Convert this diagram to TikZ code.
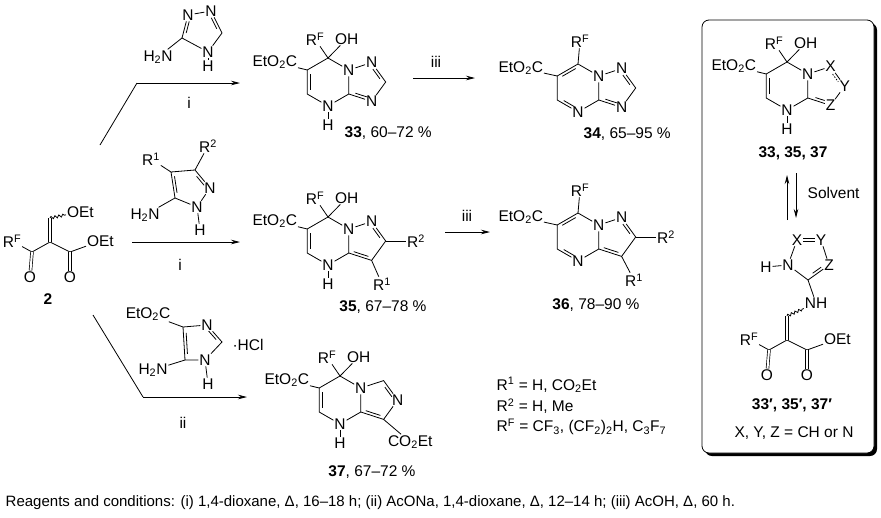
\documentclass[tikz,border=0pt]{standalone}
\usepackage{fontspec}
\setmainfont{Liberation Sans}
\usetikzlibrary{calc,arrows.meta,decorations.pathmorphing}
\newcommand\dbR[3][0.18]{\draw ($(#2)!#1!(#3)!2.8pt!-90:(#3)$) -- ($(#3)!#1!(#2)!2.8pt!90:(#2)$);}
\newcommand\enone[3]{%
\begin{scope}[shift={(#2,#3)}]
\coordinate (#1c) at (0,0); \coordinate (#1t) at (0,-24);
\coordinate (#1l) at (-18,10); \coordinate (#1r) at (20,10);
\node[atom] (#1RF) at (-38,-1) {R\textsuperscript{F}};
\node[atom] (#1Ol) at (-20,35) {O};
\node[atom] (#1Or) at (20,35) {O};
\node[atom,anchor=west] (#1OEt) at (36,-1) {OEt};
\draw (#1l)--(#1c)--(#1r); \draw (#1l)--(#1RF); \draw (#1r)--(#1OEt);
\draw[dbl] (#1l)--(#1Ol); \draw[dbl] (#1r)--(#1Or); \draw[dbl] (#1c)--(#1t);
\end{scope}}
\begin{document}
\begin{tikzpicture}[x=1pt,y=-1pt,line width=0.8pt,
  font=\fontsize{15.5}{18}\selectfont,
  atom/.style={inner sep=0.6pt},
  dbl/.style={double,double distance=2pt,line width=0.7pt},
  wavy/.style={decorate,decoration={snake,amplitude=1.3pt,segment length=4pt}},
  rxn/.style={-{Stealth[length=9pt,width=4.5pt]}}]
\useasboundingbox (0,0) rectangle (881,517);
% box
\fill[rounded corners=7pt] (705,23) rectangle (877,456);
\draw[fill=white,rounded corners=7pt] (702,20) rectangle (874,453);

% ---- compound 2
\enone{S}{50}{242}
\node[atom,anchor=west] (SOEt2) at (66,212) {OEt};
\draw[wavy] (St)--(SOEt2);
\node[font=\fontsize{15.5}{18}\selectfont\bfseries] (L2) at (48,299) {2};

% ---- aminotriazole
\node[atom] (TN2) at (188,15) {N};
\node[atom] (TN1) at (211,11) {N};
\coordinate (TC5) at (222,33);
\node[atom] (TN4) at (208,52) {N};
\node[atom] (TH) at (208,66) {H};
\coordinate (TC3) at (182,38);
\node[atom] (TNH2) at (158,57) {H\textsubscript{2}N};
\draw (TN2)--(TN1)--(TC5)--(TN4)--(TC3)--(TN2);
\draw (TN4)--(TH); \draw (TC3)--(TNH2);
\dbR[0.25]{TC3}{TN2} \dbR[0.25]{TN1}{TC5}

% ---- aminopyrazole
\node[atom] (PR1) at (151,159) {R\textsuperscript{1}};
\coordinate (PC4) at (171,172);
\node[atom] (PR2) at (208,146) {R\textsuperscript{2}};
\coordinate (PC3) at (195,170);
\node[atom] (PN2) at (210,188) {N};
\node[atom] (PN1) at (197,207) {N};
\node[atom] (PH) at (200,230) {H};
\coordinate (PC5) at (175,198);
\node[atom] (PNH2) at (145,215) {H\textsubscript{2}N};
\draw (PC4)--(PC3)--(PN2)--(PN1)--(PC5)--(PC4);
\draw (PC4)--(PR1); \draw (PC3)--(PR2); \draw (PN1)--(PH); \draw (PC5)--(PNH2);
\dbR[0.25]{PC3}{PN2} \dbR{PC5}{PC4}

% ---- aminoimidazole
\node[atom] (IE) at (148,314) {EtO\textsubscript{2}C};
\coordinate (IC4) at (183,327);
\node[atom] (IN3) at (207,325) {N};
\coordinate (IC2) at (222,342);
\node[atom] (IN1) at (205,360) {N};
\node[atom] (IH) at (208,384) {H};
\coordinate (IC5) at (185,360);
\node[atom] (INH2) at (153,370) {H\textsubscript{2}N};
\node (HCl) at (248,345) {·HCl};
\draw (IC4)--(IN3)--(IC2)--(IN1)--(IC5)--(IC4);
\draw (IC4)--(IE); \draw (IC5)--(INH2); \draw (IN1)--(IH);
\dbR[0.25]{IN3}{IC2} \dbR{IC5}{IC4}

% ---- arrows from 2
\coordinate (a1s) at (100,145); \coordinate (a1m) at (137,83); \coordinate (a1e) at (240,83);
\draw (a1s)--(a1m); \draw[rxn] (a1m)--(a1e);
\node (r1) at (189,103) {i};
\coordinate (a2s) at (132,242); \coordinate (a2e) at (240,242);
\draw[rxn] (a2s)--(a2e);
\node (r2) at (180,265) {i};
\coordinate (a3s) at (93,315); \coordinate (a3m) at (143,397); \coordinate (a3e) at (247,397);
\draw (a3s)--(a3m); \draw[rxn] (a3m)--(a3e);
\node (r3) at (183,423) {ii};
\coordinate (a4s) at (413,78); \coordinate (a4e) at (475,78);
\draw[rxn] (a4s)--(a4e);
\node (r4) at (436,62) {iii};
\coordinate (a5s) at (445,232); \coordinate (a5e) at (490,232);
\draw[rxn] (a5s)--(a5e);
\node (r5) at (467,216) {iii};

% ---- compound 33
\begin{scope}[shift={(328,82)}]
\coordinate (At) at (0,-24);
\node[atom] (Aur) at (20.8,-12) {N};
\coordinate (Alr) at (20.8,12);
\node[atom] (Ab) at (0,24) {N};
\coordinate (All) at (-20.8,12);
\coordinate (Aul) at (-20.8,-12);
\node[atom] (Ap1) at (43.6,-19.4) {N};
\coordinate (Ap2) at (57.7,0);
\node[atom] (Ap3) at (43.6,19.4) {N};
\node[atom] (AH) at (0,43) {H};
\node[atom] (ARF) at (-13,-43) {R\textsuperscript{F}};
\node[atom,anchor=west] (AOH) at (6,-43) {OH};
\node[atom,anchor=east] (AE) at (-30,-20) {EtO\textsubscript{2}C};
\draw (At)--(Aur)--(Alr)--(Ab)--(All)--(Aul)--(At);
\draw (Aur)--(Ap1)--(Ap2)--(Ap3)--(Alr);
\draw (At)--(ARF); \draw (At)--(AOH); \draw (Aul)--(AE); \draw (Ab)--(AH);
\dbR{All}{Aul} \dbR[0.25]{Ap1}{Ap2} \dbR[0.25]{Ap3}{Alr}
\end{scope}
\node[anchor=west] (L33) at (341,133) {\textbf{33}, 60–72 \%};

% ---- compound 35
\begin{scope}[shift={(328,241)}]
\coordinate (Bt) at (0,-24);
\node[atom] (Bur) at (20.8,-12) {N};
\coordinate (Blr) at (20.8,12);
\node[atom] (Bb) at (0,24) {N};
\coordinate (Bll) at (-20.8,12);
\coordinate (Bul) at (-20.8,-12);
\node[atom] (Bp1) at (43.6,-19.4) {N};
\coordinate (Bp2) at (57.7,0);
\coordinate (Bp3) at (43.6,19.4);
\node[atom] (BH) at (0,43) {H};
\node[atom] (BRF) at (-13,-43) {R\textsuperscript{F}};
\node[atom,anchor=west] (BOH) at (6,-43) {OH};
\node[atom,anchor=east] (BE) at (-30,-20) {EtO\textsubscript{2}C};
\node[atom] (BR2) at (88,0) {R\textsuperscript{2}};
\node[atom] (BR1) at (54,43) {R\textsuperscript{1}};
\draw (Bt)--(Bur)--(Blr)--(Bb)--(Bll)--(Bul)--(Bt);
\draw (Bur)--(Bp1)--(Bp2)--(Bp3)--(Blr);
\draw (Bt)--(BRF); \draw (Bt)--(BOH); \draw (Bul)--(BE); \draw (Bb)--(BH);
\draw (Bp2)--(BR2); \draw (Bp3)--(BR1);
\dbR{Bll}{Bul} \dbR[0.25]{Bp1}{Bp2} \dbR{Bp3}{Blr}
\end{scope}
\node (L35) at (383,307) {\textbf{35}, 67–78 \%};

% ---- compound 37
\begin{scope}[shift={(340,400)}]
\coordinate (Ct) at (0,-24);
\node[atom] (Cur) at (20.8,-12) {N};
\coordinate (Clr) at (20.8,12);
\node[atom] (Cb) at (0,24) {N};
\coordinate (Cll) at (-20.8,12);
\coordinate (Cul) at (-20.8,-12);
\coordinate (Cp1) at (43.6,-19.4);
\node[atom] (Cp2) at (57.7,0) {N};
\coordinate (Cp3) at (43.6,19.4);
\node[atom] (CH) at (0,43) {H};
\node[atom] (CRF) at (-13,-43) {R\textsuperscript{F}};
\node[atom,anchor=west] (COH) at (6,-43) {OH};
\node[atom,anchor=east] (CE) at (-30,-20) {EtO\textsubscript{2}C};
\node[atom,anchor=west] (CCO) at (47,42) {CO\textsubscript{2}Et};
\draw (Ct)--(Cur)--(Clr)--(Cb)--(Cll)--(Cul)--(Ct);
\draw (Cur)--(Cp1)--(Cp2)--(Cp3)--(Clr);
\draw (Ct)--(CRF); \draw (Ct)--(COH); \draw (Cul)--(CE); \draw (Cb)--(CH);
\draw (Cp3)--(CCO);
\dbR{Cll}{Cul} \dbR[0.25]{Cp1}{Cp2} \dbR{Cp3}{Clr}
\end{scope}
\node (L37) at (372,472) {\textbf{37}, 67–72 \%};

% ---- compound 34
\begin{scope}[shift={(578,88)}]
\coordinate (Dt) at (0,-24);
\node[atom] (Dur) at (20.8,-12) {N};
\coordinate (Dlr) at (20.8,12);
\node[atom] (Db) at (0,24) {N};
\coordinate (Dll) at (-20.8,12);
\coordinate (Dul) at (-20.8,-12);
\node[atom] (Dp1) at (43.6,-19.4) {N};
\coordinate (Dp2) at (57.7,0);
\node[atom] (Dp3) at (43.6,19.4) {N};
\node[atom] (DRF) at (2,-47) {R\textsuperscript{F}};
\node[atom,anchor=east] (DE) at (-34,-20) {EtO\textsubscript{2}C};
\draw (Dt)--(Dur)--(Dlr)--(Db)--(Dll)--(Dul)--(Dt);
\draw (Dur)--(Dp1)--(Dp2)--(Dp3)--(Dlr);
\draw (Dt)--(DRF); \draw (Dul)--(DE);
\dbR{Dul}{Dt} \dbR[0.25]{Db}{Dll} \dbR[0.25]{Dp1}{Dp2} \dbR[0.25]{Dp3}{Dlr}
\end{scope}
\node[anchor=west] (L34) at (580,134) {\textbf{34}, 65–95 \%};

% ---- compound 36
\begin{scope}[shift={(578,237)}]
\coordinate (Et) at (0,-24);
\node[atom] (Eur) at (20.8,-12) {N};
\coordinate (Elr) at (20.8,12);
\node[atom] (Eb) at (0,24) {N};
\coordinate (Ell) at (-20.8,12);
\coordinate (Eul) at (-20.8,-12);
\node[atom] (Ep1) at (43.6,-19.4) {N};
\coordinate (Ep2) at (57.7,0);
\coordinate (Ep3) at (43.6,19.4);
\node[atom] (ERF) at (2,-47) {R\textsuperscript{F}};
\node[atom,anchor=east] (EE) at (-34,-20) {EtO\textsubscript{2}C};
\node[atom] (ER2) at (88,0) {R\textsuperscript{2}};
\node[atom] (ER1) at (56,43) {R\textsuperscript{1}};
\draw (Et)--(Eur)--(Elr)--(Eb)--(Ell)--(Eul)--(Et);
\draw (Eur)--(Ep1)--(Ep2)--(Ep3)--(Elr);
\draw (Et)--(ERF); \draw (Eul)--(EE); \draw (Ep2)--(ER2); \draw (Ep3)--(ER1);
\dbR{Eul}{Et} \dbR[0.25]{Eb}{Ell} \dbR[0.25]{Ep1}{Ep2} \dbR{Ep3}{Elr}
\end{scope}
\node (L36) at (596,305) {\textbf{36}, 78–90 \%};

% ---- R definitions
\node[anchor=west] (D1) at (493,385) {R\textsuperscript{1} = H, CO\textsubscript{2}Et};
\node[anchor=west] (D2) at (493,406) {R\textsuperscript{2} = H, Me};
\node[anchor=west] (D3) at (493,427) {R\textsuperscript{F} = CF\textsubscript{3}, (CF\textsubscript{2})\textsubscript{2}H, C\textsubscript{3}F\textsubscript{7}};

% ---- box: top compound
\begin{scope}[shift={(787,86)}]
\coordinate (Ft) at (0,-24);
\node[atom] (Fur) at (20.8,-12) {N};
\coordinate (Flr) at (20.8,12);
\node[atom] (Fb) at (0,24) {N};
\coordinate (Fll) at (-20.8,12);
\coordinate (Ful) at (-20.8,-12);
\node[atom] (Fp1) at (43.6,-19.4) {X};
\node[atom] (Fp2) at (57.7,0) {Y};
\node[atom] (Fp3) at (43.6,19.4) {Z};
\node[atom] (FH) at (0,43) {H};
\node[atom] (FRF) at (-13,-43) {R\textsuperscript{F}};
\node[atom,anchor=west] (FOH) at (6,-43) {OH};
\node[atom,anchor=east] (FE) at (-30,-20) {EtO\textsubscript{2}C};
\draw (Ft)--(Fur)--(Flr)--(Fb)--(Fll)--(Ful)--(Ft);
\draw (Fur)--(Fp1)--(Fp2)--(Fp3)--(Flr);
\draw (Ft)--(FRF); \draw (Ft)--(FOH); \draw (Ful)--(FE); \draw (Fb)--(FH);
\dbR{Fll}{Ful} \draw[dash pattern=on 1.5pt off 1.5pt] ($(Fp1)!0.3!(Fp2)!2.8pt!-90:(Fp2)$) -- ($(Fp2)!0.3!(Fp1)!2.8pt!90:(Fp1)$);
\dbR[0.3]{Fp3}{Flr}
\end{scope}
\node (L33b) at (793,153) {\textbf{33, 35, 37}};

% equilibrium
\coordinate (q1s) at (787,220); \coordinate (q1e) at (787,175);
\coordinate (q2s) at (796,173); \coordinate (q2e) at (796,218);
\draw[rxn] (q1s)--(q1e); \draw[rxn] (q2s)--(q2e);
\node[anchor=west] (Solv) at (804,193) {Solvent};

% ---- box: open form
\node[atom] (GX) at (797,240) {X};
\node[atom] (GY) at (821,240) {Y};
\node[atom] (GN) at (788,265) {N};
\node[atom] (GZ) at (829,265) {Z};
\coordinate (GC) at (808,280);
\node[atom] (GH) at (766,267) {H};
\draw (GN)--(GX); \draw[dbl] (GX)--(GY); \draw (GY)--(GZ); \draw (GZ)--(GC)--(GN);
\draw (GN)--(GH);
\dbR[0.3]{GZ}{GC}
\node[atom] (GNH) at (816,303) {NH};
\draw (GC)--(GNH);
\enone{K}{787}{340}
\draw[wavy] (Kt)--(GNH);
\node (L33p) at (792,405) {\textbf{33′, 35′, 37′}};
\node (XYZ) at (794,433) {X, Y, Z = CH or N};

% ---- footer
\node[anchor=west,font=\fontsize{15}{17}\selectfont] (foot) at (2,503) {Reagents and conditions: (i) 1,4-dioxane, Δ, 16–18 h; (ii) AcONa, 1,4-dioxane, Δ, 12–14 h; (iii) AcOH, Δ, 60 h.};
\end{tikzpicture}
\end{document}
